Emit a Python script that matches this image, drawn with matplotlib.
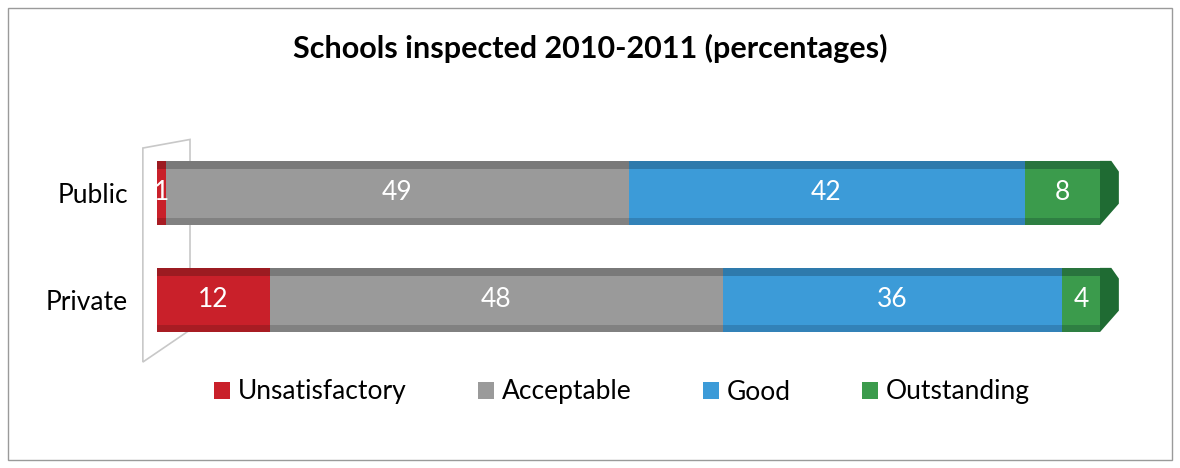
import matplotlib.pyplot as plt
from matplotlib.patches import Rectangle, Polygon

# Data
schools = ['Private', 'Public']
categories = ['Unsatisfactory', 'Acceptable', 'Good', 'Outstanding']
unsatisfactory = [12, 1]
acceptable = [48, 49]
good = [36, 42]
outstanding = [4, 8]

colors = ['#c9202a', '#9a9a9a', '#3c9bd8', '#3b9b4c']
dark = ['#8e1a1e', '#6e6e6e', '#2a6f9e', '#24683a']

plt.rcParams['font.family'] = ['Lato', 'DejaVu Sans']

fig = plt.figure(figsize=(11.8, 4.68), dpi=100)
fig.patches.append(Rectangle((8 / 1180, 8 / 468), 1164 / 1180, 452 / 468,
                             transform=fig.transFigure, fill=False,
                             edgecolor='#9a9a9a', linewidth=1.0))

ax = fig.add_axes([157 / 1180, 0.2447, 943 / 1180, 0.4573])

series = [unsatisfactory, acceptable, good, outstanding]
y = list(range(len(schools)))
h = 0.6
left = [0] * len(schools)
for vals, c, d, name in zip(series, colors, dark, categories):
    ax.barh(y, vals, left=left, height=h, color=c, label=name, edgecolor='none')
    # darker top and bottom strips for the bevelled look
    ax.barh([v + h / 2 - 0.04 for v in y], vals, left=left, height=0.08, color=d,
            edgecolor='none', alpha=0.75)
    ax.barh([v - h / 2 + 0.035 for v in y], vals, left=left, height=0.07, color=d,
            edgecolor='none', alpha=0.55)
    for yi, v, l in zip(y, vals, left):
        ax.text(l + v / 2, yi, str(v), ha='center', va='center',
                color='white', fontsize=19)
    left = [a + b for a, b in zip(left, vals)]

# bevelled end caps on the right
for yi, total in zip(y, left):
    cap = Polygon([(total, yi - h / 2), (total + 1.2, yi - h / 2 + 0.12),
                   (total + 2.0, yi - h / 2 + 0.2), (total + 2.0, yi + h / 2 - 0.1),
                   (total + 1.2, yi + h / 2), (total, yi + h / 2)],
                  closed=True, facecolor='#1f6b33', edgecolor='none', clip_on=False)
    ax.add_patch(cap)

# light left wall of the 3D frame
wall = Polygon([(-1.5, -0.58), (-1.5, 1.42), (3.5, 1.5), (3.5, -0.28)],
               closed=True, fill=False, edgecolor='#c8c8c8', linewidth=1.2,
               clip_on=False, zorder=0)
ax.add_patch(wall)

ax.set_xlim(0, 100)
ax.set_ylim(-0.5, 1.5)
ax.set_yticks(y)
ax.set_yticklabels(schools, fontsize=19)
ax.tick_params(axis='y', length=0, pad=21)
ax.set_xticks([])
for s in ax.spines.values():
    s.set_visible(False)

fig.text(590 / 1180, 1 - 48 / 468, 'Schools inspected 2010-2011 (percentages)',
         ha='center', va='center', fontsize=22, fontweight='bold')

fig.legend(loc='center', bbox_to_anchor=(622 / 1180, 1 - 392 / 468), ncol=4,
           frameon=False, fontsize=19, handlelength=0.6, handleheight=0.6,
           handletextpad=0.3, columnspacing=2.7)

fig.savefig('out.png', dpi=100)
